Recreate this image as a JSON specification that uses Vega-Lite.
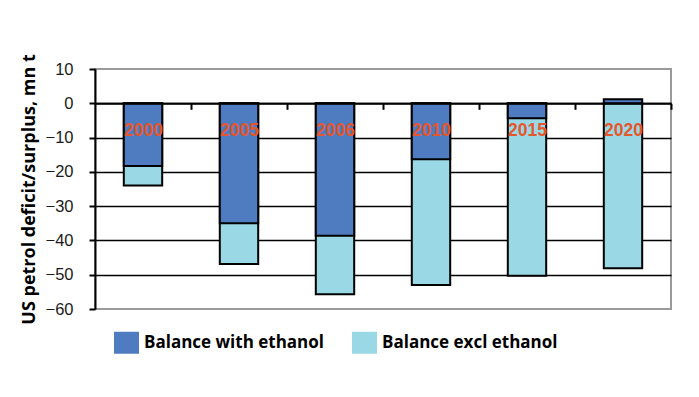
{
  "$schema": "https://vega.github.io/schema/vega-lite/v6.json",
  "autosize": "none",
  "width": 576,
  "height": 240,
  "padding": {"left": 95, "top": 69, "right": 28, "bottom": 88},
  "background": "white",
  "data": {
    "values": [
      {"year": "2000", "series": "Balance excl ethanol", "value": -24.0},
      {"year": "2005", "series": "Balance excl ethanol", "value": -46.9},
      {"year": "2006", "series": "Balance excl ethanol", "value": -55.7},
      {"year": "2010", "series": "Balance excl ethanol", "value": -53.0},
      {"year": "2015", "series": "Balance excl ethanol", "value": -50.3},
      {"year": "2020", "series": "Balance excl ethanol", "value": -48.1},
      {"year": "2000", "series": "Balance with ethanol", "value": -18.3},
      {"year": "2005", "series": "Balance with ethanol", "value": -35.0},
      {"year": "2006", "series": "Balance with ethanol", "value": -38.6},
      {"year": "2010", "series": "Balance with ethanol", "value": -16.3},
      {"year": "2015", "series": "Balance with ethanol", "value": -4.4},
      {"year": "2020", "series": "Balance with ethanol", "value": 1.2}
    ]
  },
  "mark": {"type": "bar", "stroke": "black", "strokeWidth": 2},
  "encoding": {
    "x": {
      "field": "year",
      "type": "nominal",
      "sort": null,
      "scale": {"paddingInner": 0.6, "paddingOuter": 0.3},
      "axis": {
        "title": null,
        "orient": "bottom",
        "offset": -205.7,
        "zindex": 1,
        "labelAngle": 0,
        "ticks": true,
        "bandPosition": 1,
        "tickExtra": false,
        "tickOffset": 28.8,
        "labelOffset": -28.8,
        "tickSize": 6,
        "tickWidth": 2,
        "tickColor": "black",
        "domainColor": "black",
        "domainWidth": 2,
        "labelPadding": 12,
        "labelFont": "Liberation Sans",
        "labelFontSize": 17.5,
        "labelFontWeight": "bold",
        "labelColor": "#E4572E",
        "grid": false
      }
    },
    "y": {
      "field": "value",
      "type": "quantitative",
      "stack": null,
      "scale": {"domain": [-60, 10], "nice": false, "zero": false},
      "axis": {
        "title": "US petrol deficit/surplus, mn t",
        "titleFont": "Open Sans",
        "titleFontSize": 18,
        "titleFontWeight": "bold",
        "titleColor": "black",
        "titlePadding": 7,
        "values": [-60, -50, -40, -30, -20, -10, 0, 10],
        "labelFont": "Liberation Sans",
        "labelFontSize": 16.5,
        "labelColor": "#1a1a1a",
        "labelPadding": 16,
        "tickSize": 6,
        "tickWidth": 2,
        "tickColor": "black",
        "domainColor": "black",
        "domainWidth": 2,
        "grid": true,
        "gridWidth": 1.6,
        "gridColor": {
          "condition": {"test": "datum.value === 10 || datum.value === -60", "value": "transparent"},
          "value": "black"
        }
      }
    },
    "color": {
      "field": "series",
      "type": "nominal",
      "scale": {
        "domain": ["Balance with ethanol", "Balance excl ethanol"],
        "range": ["#4F7BC1", "#9AD8E6"]
      },
      "legend": {
        "title": null,
        "orient": "none",
        "direction": "horizontal",
        "legendX": 19,
        "legendY": 261,
        "padding": 0,
        "symbolType": "M-1,-0.88H1V0.88H-1Z",
        "symbolSize": 625,
        "symbolStrokeWidth": 0,
        "symbolOpacity": 1,
        "labelFont": "Open Sans",
        "labelFontSize": 17,
        "labelFontWeight": "bold",
        "labelColor": "black",
        "labelOffset": 5,
        "columnPadding": 28,
        "labelLimit": 300
      }
    },
    "order": {"field": "series", "sort": "ascending"}
  },
  "config": {
    "view": {"stroke": "#9a9a9a", "strokeWidth": 2}
  }
}
